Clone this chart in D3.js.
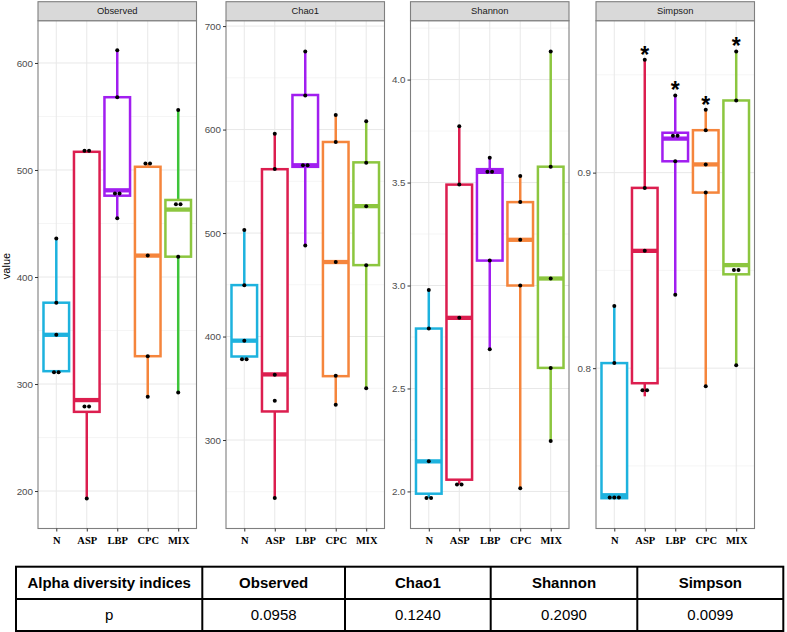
<!DOCTYPE html>
<html><head><meta charset="utf-8">
<script src="https://cdn.jsdelivr.net/npm/d3@7"></script>
<style>body{margin:0;background:#fff} svg{display:block}</style>
</head><body>
<svg id="chart" width="787" height="632"></svg>
<script>
// ---------------- DATA ----------------
const groups = ["N", "ASP", "LBP", "CPC", "MIX"];
const indices = ["Observed", "Chao1", "Shannon", "Simpson"];

// box stats per group: [lower whisker, Q1, median, Q3, upper whisker]
const observedBoxes = [
  [311, 312, 346, 376, 436],
  [193, 274, 285, 517, 518],
  [455, 476, 481, 568, 612],
  [288, 326, 420, 503, 506],
  [292, 419, 463, 472, 556]
];
const chao1Boxes = [
  [378, 380.7, 396, 449.7, 502.8],
  [243.8, 327.6, 363.4, 561.7, 596.2],
  [487.9, 564, 565.5, 633.4, 675.5],
  [334, 361.7, 472, 588, 614],
  [350, 469, 526, 568.3, 608]
];
const shannonBoxes = [
  [1.968, 1.989, 2.146, 2.791, 2.978],
  [2.034, 2.057, 2.843, 3.490, 3.774],
  [2.691, 3.121, 3.552, 3.565, 3.621],
  [2.015, 3.000, 3.222, 3.405, 3.532],
  [2.245, 2.600, 3.034, 3.577, 4.137]
];
const simpsonBoxes = [
  [0.7335, 0.7335, 0.7350, 0.8026, 0.8318],
  [0.7856, 0.7923, 0.8600, 0.8922, 0.9577],
  [0.8376, 0.9058, 0.9174, 0.9204, 0.9395],
  [0.7907, 0.8898, 0.9042, 0.9217, 0.9322],
  [0.8015, 0.8480, 0.8527, 0.9369, 0.9620]
];

// individual samples per group
const observedPoints = [
  [436, 376, 346, 311, 311],
  [518, 518, 279, 279, 193],
  [612, 568, 478, 478, 455],
  [506, 506, 420, 326, 288],
  [556, 468, 468, 419, 292]
];
const chao1Points = [
  [503, 449.5, 396, 378, 378],
  [596, 562, 363, 338, 244],
  [675.5, 633, 565.5, 565.5, 488],
  [614, 588, 472, 362, 334],
  [608, 568, 526, 469, 350]
];
const shannonPoints = [
  [2.978, 2.791, 2.146, 1.968, 1.968],
  [3.774, 3.490, 2.843, 2.034, 2.034],
  [3.621, 3.552, 3.552, 3.121, 2.691],
  [3.532, 3.405, 3.222, 3.000, 2.015],
  [4.137, 3.577, 3.034, 2.600, 2.245]
];
const simpsonPoints = [
  [0.8318, 0.8026, 0.7339, 0.7339, 0.7339],
  [0.9577, 0.8922, 0.8600, 0.7887, 0.7887],
  [0.9395, 0.9188, 0.9188, 0.9058, 0.8376],
  [0.9322, 0.9217, 0.9042, 0.8898, 0.7907],
  [0.9620, 0.9369, 0.8502, 0.8502, 0.8015]
];

// axis ranges and tick labels
const observedDomain = [165, 639.5];
const chao1Domain = [214.5, 705.2];
const shannonDomain = [1.820, 4.286];
const simpsonDomain = [0.718, 0.9777];
const observedTicks = [200, 300, 400, 500, 600];
const chao1Ticks = [300, 400, 500, 600, 700];
const shannonTicks = [2.0, 2.5, 3.0, 3.5, 4.0];
const simpsonTicks = [0.8, 0.9];

const simpsonSignif = ["", "*", "*", "*", "*"];

const tableHeader = "Alpha diversity indices";
const tableRowLabel = "p";
const pValues = ["0.0958", "0.1240", "0.2090", "0.0099"];

// ---------------- STYLE / LAYOUT ----------------
const groupColors = ["#1db2de", "#dc1e4f", "#a11ef0", "#f5853c", "#8cc63f"];
const observedMixWhisker = "#3ec43a";
const panelLeft = [38, 226, 410.5, 596];
const panelW = 158.5;
const stripTop = 1.7, plotTop = 20.7, plotBottom = 528.5;
const boxHalf = 12.8;
const font = "'Liberation Sans', Arial, Helvetica, sans-serif";
const serif = "'Liberation Serif', 'Times New Roman', serif";

const panels = [
  {name: indices[0], boxes: observedBoxes, points: observedPoints, domain: observedDomain, ticks: observedTicks, fmt: d3.format("d")},
  {name: indices[1], boxes: chao1Boxes, points: chao1Points, domain: chao1Domain, ticks: chao1Ticks, fmt: d3.format("d")},
  {name: indices[2], boxes: shannonBoxes, points: shannonPoints, domain: shannonDomain, ticks: shannonTicks, fmt: d3.format(".1f")},
  {name: indices[3], boxes: simpsonBoxes, points: simpsonPoints, domain: simpsonDomain, ticks: simpsonTicks, fmt: d3.format(".1f"), signif: simpsonSignif}
];

const svg = d3.select("#chart");
svg.append("rect").attr("width", 787).attr("height", 632).attr("fill", "#fff");

panels.forEach((p, pi) => {
  const left = panelLeft[pi];
  const x = d3.scalePoint().domain(groups).range([left, left + panelW]).padding(0.6);
  const y = d3.scaleLinear().domain(p.domain).range([plotBottom, plotTop]);
  const g = svg.append("g");

  // minor grid
  const step = p.ticks[1] - p.ticks[0];
  const minor = [p.ticks[0] - step / 2].concat(p.ticks.map(t => t + step / 2))
    .filter(v => v > p.domain[0] && v < p.domain[1]);
  g.selectAll(".minor").data(minor).join("line")
    .attr("x1", left).attr("x2", left + panelW)
    .attr("y1", d => y(d)).attr("y2", d => y(d))
    .attr("stroke", "#f3f3f3").attr("stroke-width", 0.8);
  g.selectAll(".major").data(p.ticks).join("line")
    .attr("x1", left).attr("x2", left + panelW)
    .attr("y1", d => y(d)).attr("y2", d => y(d))
    .attr("stroke", "#e8e8e8").attr("stroke-width", 1);
  g.selectAll(".vgrid").data(groups).join("line")
    .attr("x1", d => x(d)).attr("x2", d => x(d))
    .attr("y1", plotTop).attr("y2", plotBottom)
    .attr("stroke", "#e8e8e8").attr("stroke-width", 1);

  // boxes
  p.boxes.forEach((b, gi) => {
    const cx = x(groups[gi]);
    const col = groupColors[gi];
    const wcol = (pi === 0 && gi === 4) ? observedMixWhisker : col;
    g.append("line").attr("x1", cx).attr("x2", cx).attr("y1", y(b[3])).attr("y2", y(b[4]))
      .attr("stroke", wcol).attr("stroke-width", 2.5);
    g.append("line").attr("x1", cx).attr("x2", cx).attr("y1", y(b[0])).attr("y2", y(b[1]))
      .attr("stroke", wcol).attr("stroke-width", 2.5);
    g.append("rect").attr("x", cx - boxHalf).attr("width", boxHalf * 2)
      .attr("y", y(b[3])).attr("height", Math.max(0.5, y(b[1]) - y(b[3])))
      .attr("fill", "#fff").attr("stroke", col).attr("stroke-width", 2.5);
    g.append("line").attr("x1", cx - boxHalf).attr("x2", cx + boxHalf)
      .attr("y1", y(b[2])).attr("y2", y(b[2]))
      .attr("stroke", col).attr("stroke-width", 4.3);
  });

  // points, with side-by-side offsets for near-equal values
  p.points.forEach((pts, gi) => {
    const cx = x(groups[gi]);
    const used = new Array(pts.length).fill(false);
    pts.forEach((v, i) => {
      if (used[i]) return;
      const cluster = [];
      pts.forEach((w, j) => { if (!used[j] && Math.abs(y(w) - y(v)) < 1.5) { cluster.push(j); used[j] = true; } });
      cluster.forEach((j, k) => {
        const off = (k - (cluster.length - 1) / 2) * 4.6;
        g.append("circle").attr("cx", cx + off).attr("cy", y(pts[j])).attr("r", 2)
          .attr("fill", "#000");
      });
    });
  });

  // significance marks
  if (p.signif) {
    p.signif.forEach((s, gi) => {
      if (!s) return;
      g.append("text").attr("x", x(groups[gi])).attr("y", y(p.boxes[gi][4]) + 3)
        .attr("text-anchor", "middle").attr("font-family", font).attr("font-weight", "bold")
        .attr("font-size", 23).attr("fill", "#000").text(s);
    });
  }

  // panel border
  g.append("rect").attr("x", left).attr("y", plotTop).attr("width", panelW)
    .attr("height", plotBottom - plotTop).attr("fill", "none")
    .attr("stroke", "#7f7f7f").attr("stroke-width", 1.1);
  // strip
  g.append("rect").attr("x", left).attr("y", stripTop).attr("width", panelW)
    .attr("height", plotTop - stripTop).attr("fill", "#d9d9d9")
    .attr("stroke", "#7f7f7f").attr("stroke-width", 1.1);
  g.append("text").attr("x", left + panelW / 2).attr("y", (stripTop + plotTop) / 2)
    .attr("dy", "0.35em").attr("text-anchor", "middle").attr("font-family", font)
    .attr("font-size", 9.4).attr("fill", "#1a1a1a").text(p.name);

  // axes
  const ya = g.append("g").attr("transform", `translate(${left},0)`)
    .call(d3.axisLeft(y).tickValues(p.ticks).tickFormat(p.fmt).tickSize(3).tickPadding(2));
  ya.select(".domain").remove();
  ya.selectAll("line").attr("stroke", "#333").attr("stroke-width", 1);
  ya.selectAll("text").attr("font-family", font).attr("font-size", 9.8).attr("fill", "#4d4d4d");

  const xa = g.append("g").attr("transform", `translate(0,${plotBottom})`)
    .call(d3.axisBottom(x).tickSize(3).tickPadding(5));
  xa.select(".domain").remove();
  xa.selectAll("line").attr("stroke", "#333").attr("stroke-width", 1);
  xa.selectAll("text").attr("font-family", serif).attr("font-weight", "bold")
    .attr("font-size", 10.5).attr("fill", "#000");
});

// y axis title
svg.append("text").attr("transform", "translate(10,266) rotate(-90)")
  .attr("text-anchor", "middle").attr("font-family", font).attr("font-size", 11)
  .attr("fill", "#000").text("value");

// ---------------- TABLE ----------------
const colX = [16, 202.3, 345, 490.7, 637.3, 783.3];
const rowY = [566.7, 599, 631];
const tbl = svg.append("g");
const headerCells = [tableHeader].concat(indices);
const rowCells = [tableRowLabel].concat(pValues);
headerCells.forEach((t, i) => {
  tbl.append("text").attr("x", (colX[i] + colX[i + 1]) / 2).attr("y", (rowY[0] + rowY[1]) / 2)
    .attr("dy", "0.36em").attr("text-anchor", "middle").attr("font-family", font)
    .attr("font-weight", "bold").attr("font-size", 15).attr("fill", "#000").text(t);
});
rowCells.forEach((t, i) => {
  tbl.append("text").attr("x", (colX[i] + colX[i + 1]) / 2).attr("y", (rowY[1] + rowY[2]) / 2)
    .attr("dy", "0.36em").attr("text-anchor", "middle").attr("font-family", font)
    .attr("font-size", 15).attr("fill", "#000").text(t);
});
tbl.append("rect").attr("x", colX[0]).attr("y", rowY[0]).attr("width", colX[5] - colX[0])
  .attr("height", rowY[2] - rowY[0]).attr("fill", "none").attr("stroke", "#000").attr("stroke-width", 2);
tbl.append("line").attr("x1", colX[0]).attr("x2", colX[5]).attr("y1", rowY[1]).attr("y2", rowY[1])
  .attr("stroke", "#000").attr("stroke-width", 2);
colX.slice(1, 5).forEach(cx => {
  tbl.append("line").attr("x1", cx).attr("x2", cx).attr("y1", rowY[0]).attr("y2", rowY[2])
    .attr("stroke", "#000").attr("stroke-width", 2);
});
</script>
</body></html>
